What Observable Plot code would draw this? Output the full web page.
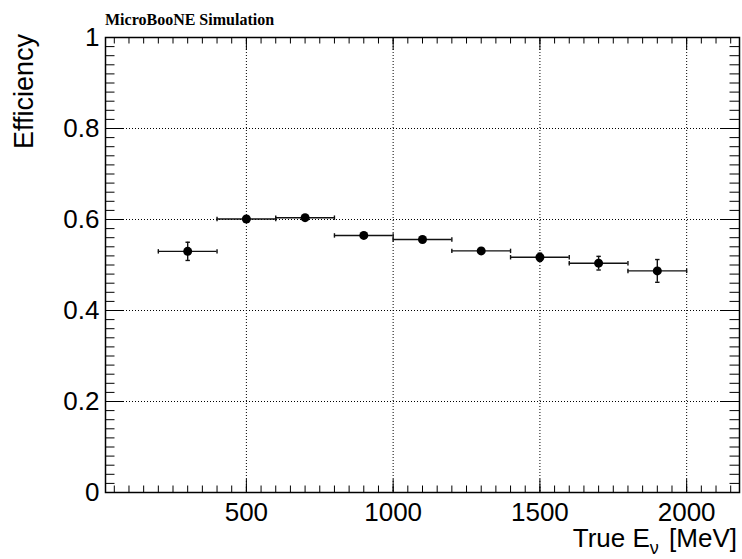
<!DOCTYPE html>
<html>
<head>
<meta charset="utf-8">
<script src="https://cdn.jsdelivr.net/npm/d3@7"></script>
<script src="https://cdn.jsdelivr.net/npm/@observablehq/plot@0.6"></script>
<style>
  html, body { margin: 0; padding: 0; background: white; }
  #chart { position: relative; width: 742px; height: 559px; }
</style>
</head>
<body>
<div id="chart"></div>
<script>
// ---- data ----
const trueEnergy = [300, 500, 700, 900, 1100, 1300, 1500, 1700, 1900];   // bin centres [MeV]
const binLow     = [200, 400, 600, 800, 1000, 1200, 1400, 1600, 1800];
const binHigh    = [400, 600, 800, 1000, 1200, 1400, 1600, 1800, 2000];
const efficiency = [0.530, 0.601, 0.604, 0.565, 0.556, 0.531, 0.517, 0.504, 0.487];
const effError   = [0.020, 0.006, 0.004, 0.003, 0.003, 0.006, 0.009, 0.015, 0.025];

const xTickValues = [500, 1000, 1500, 2000];
const yTickValues = [0, 0.2, 0.4, 0.6, 0.8, 1];
const yGridValues = [0.2, 0.4, 0.6, 0.8];

const titleText = "MicroBooNE Simulation";
const yLabelText = "Efficiency";

const rows = trueEnergy.map((e, i) => ({
  e, lo: binLow[i], hi: binHigh[i], eff: efficiency[i],
  yLo: efficiency[i] - effError[i], yHi: efficiency[i] + effError[i]
}));

const W = 742, H = 559;
const mTop = 37, mBottom = 67, mLeft = 105, mRight = 3;
const fw = W - mLeft - mRight, fh = H - mTop - mBottom;

const xMinor = d3.range(50, 2180, 50);
const yMinor = d3.range(0.02, 1, 0.02);

const vbar = {draw(ctx, size) { const r = Math.sqrt(size) / 2; ctx.moveTo(0, -r); ctx.lineTo(0, r); }};
const hbar = {draw(ctx, size) { const r = Math.sqrt(size) / 2; ctx.moveTo(-r, 0); ctx.lineTo(r, 0); }};

const ink = "#000";
const plot = Plot.plot({
  width: W, height: H,
  marginTop: mTop, marginBottom: mBottom, marginLeft: mLeft, marginRight: mRight,
  style: {fontFamily: "'Liberation Sans', Arial, Helvetica, sans-serif", background: "white", color: "black"},
  x: {domain: [20, 2180], axis: null},
  y: {domain: [0, 1], axis: null},
  marks: [
    // grid
    Plot.ruleX(xTickValues, {x: d => d, stroke: ink, strokeWidth: 1, strokeDasharray: "1,2"}),
    Plot.ruleY(yGridValues, {y: d => d, stroke: ink, strokeWidth: 1, strokeDasharray: "1,2"}),
    // x ticks (bottom and top, inside)
    Plot.tickX(xMinor, {x: d => d, insetTop: fh - 6.5, stroke: ink}),
    Plot.tickX(xTickValues, {x: d => d, insetTop: fh - 13, stroke: ink}),
    Plot.tickX(xMinor, {x: d => d, insetBottom: fh - 6.5, stroke: ink}),
    Plot.tickX(xTickValues, {x: d => d, insetBottom: fh - 13, stroke: ink}),
    // y ticks (left and right, inside)
    Plot.tickY(yMinor, {y: d => d, insetRight: fw - 9.5, stroke: ink}),
    Plot.tickY(yTickValues, {y: d => d, insetRight: fw - 19, stroke: ink}),
    Plot.tickY(yMinor, {y: d => d, insetLeft: fw - 9.5, stroke: ink}),
    Plot.tickY(yTickValues, {y: d => d, insetLeft: fw - 19, stroke: ink}),
    // axes labels
    Plot.axisX(xTickValues, {tickSize: 0, tickPadding: 10, fontSize: 26, label: null, tickFormat: d => String(d)}),
    Plot.axisY(yTickValues, {tickSize: 0, tickPadding: 6, fontSize: 26, label: null, tickFormat: d => String(d)}),
    // error bars
    Plot.ruleY(rows, {y: "eff", x1: "lo", x2: "hi", stroke: "#111", strokeWidth: 1.4}),
    Plot.dot(rows, {x: "lo", y: "eff", r: 2.5, symbol: vbar, stroke: "#111", strokeWidth: 1.4, fill: "none"}),
    Plot.dot(rows, {x: "hi", y: "eff", r: 2.5, symbol: vbar, stroke: "#111", strokeWidth: 1.4, fill: "none"}),
    Plot.ruleX(rows, {x: "e", y1: "yLo", y2: "yHi", stroke: "#111", strokeWidth: 1.4}),
    Plot.dot(rows, {x: "e", y: "yLo", r: 2.5, symbol: hbar, stroke: "#111", strokeWidth: 1.4, fill: "none"}),
    Plot.dot(rows, {x: "e", y: "yHi", r: 2.5, symbol: hbar, stroke: "#111", strokeWidth: 1.4, fill: "none"}),
    Plot.dot(rows, {x: "e", y: "eff", r: 4.5, fill: "black", stroke: "none"}),
    Plot.frame({stroke: ink, strokeWidth: 1.5})
  ]
});

const svg = d3.select(plot);
svg.append("text")
  .attr("x", 105).attr("y", 25)
  .attr("text-anchor", "start")
  .attr("font-family", "'Liberation Serif', 'Times New Roman', serif")
  .attr("font-weight", "bold").attr("font-size", 16)
  .attr("fill", "black")
  .text(titleText);

svg.append("text")
  .attr("transform", "translate(33,34) rotate(-90)")
  .attr("text-anchor", "end")
  .attr("font-size", 27).attr("fill", "black")
  .text(yLabelText);

const xl = svg.append("text")
  .attr("x", 737).attr("y", 547)
  .attr("text-anchor", "end")
  .attr("font-size", 26).attr("fill", "black");
xl.append("tspan").text("True E");
xl.append("tspan").attr("dy", 7).attr("font-size", 18).text("ν");
xl.append("tspan").attr("dy", -7).attr("dx", 3).text(" [MeV]");

document.getElementById("chart").appendChild(plot);
</script>
</body>
</html>
